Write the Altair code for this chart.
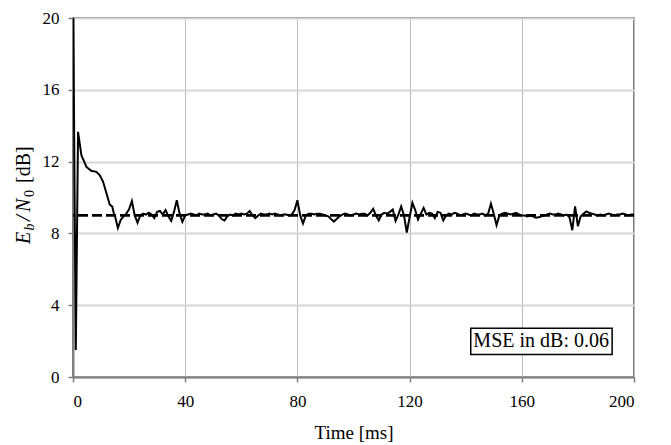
import altair as alt
import pandas as pd

# --- data ---
start_time = [0, 1, 1.8, 3, 4.8, 6.5, 8.3, 9.5, 10.7, 11.9, 13.1, 14.0, 14.5]
start_vals = [22.0, 1.5, 13.66, 12.35, 11.7, 11.49, 11.43, 11.25, 10.89, 10.25, 9.6, 9.5, 9.15]

steady_time = list(range(15, 201))
steady_vals = [
    8.95, 8.3, 8.75, 8.95, 9.1, 9.35, 9.8, 9.0, 8.6, 9.0,          # 15-24
    9.1, 9.05, 9.15, 9.05, 8.85, 9.2, 9.25, 9.05, 9.3, 8.95,       # 25-34
    8.7, 9.2, 9.85, 9.1, 8.65, 9.0, 9.05, 9.1, 9.05, 9.0,          # 35-44
    9.1, 9.05, 9.05, 9.1, 9.0, 9.05, 9.1, 9.0, 8.8, 8.72,          # 45-54
    8.95, 9.05, 9.0, 9.1, 9.05, 9.1, 9.05, 9.1, 9.25, 9.0,         # 55-64
    8.85, 9.0, 9.1, 9.05, 9.05, 9.1, 9.05, 9.1, 9.05, 9.0,         # 65-74
    9.05, 9.05, 9.0, 9.05, 9.3, 9.85, 9.0, 8.55, 9.0, 9.1,         # 75-84
    9.1, 9.05, 9.1, 9.1, 9.05, 9.0, 8.95, 8.8, 8.66, 8.8,          # 85-94
    8.95, 9.05, 9.1, 9.05, 9.0, 9.05, 9.1, 9.05, 9.1, 9.1,         # 95-104
    9.0, 9.15, 9.37, 9.0, 8.73, 9.05, 9.15, 9.1, 9.2, 9.33,        # 105-114
    8.7, 9.05, 9.5, 9.0, 8.05, 8.9, 9.7, 9.3, 8.78, 9.1,           # 115-124
    9.42, 9.05, 9.15, 9.1, 8.85, 9.2, 9.15, 8.72, 9.0, 9.1,        # 125-134
    9.05, 9.15, 9.1, 9.0, 9.05, 9.1, 9.05, 9.0, 9.1, 9.05,         # 135-144
    9.05, 9.1, 9.0, 9.1, 9.66, 9.1, 8.46, 9.0, 9.1, 9.15,          # 145-154
    9.1, 9.05, 9.1, 9.15, 9.05, 9.0, 9.0, 8.95, 9.0, 8.95,         # 155-164
    8.88, 8.9, 8.95, 9.0, 9.05, 9.1, 9.05, 9.05, 9.1, 9.05,        # 165-174
    9.0, 9.05, 8.9, 8.18, 9.5, 8.4, 8.95, 9.1, 9.22, 9.15,         # 175-184
    9.1, 9.05, 9.0, 9.05, 9.0, 9.05, 9.1, 9.05, 9.0, 9.05,         # 185-194
    9.05, 9.1, 9.05, 9.0, 9.05, 9.05,                               # 195-200
]

target_level = [9.0]
x_ticks = [0, 40, 80, 120, 160, 200]
y_ticks = [0, 4, 8, 12, 16, 20]
mse_text = "MSE in dB: 0.06"

df = pd.DataFrame({"t": start_time + steady_time, "v": start_vals + steady_vals})
ref_df = pd.DataFrame({"y": target_level})

FONT = "Liberation Serif"

x_enc = alt.X(
    "t:Q",
    scale=alt.Scale(domain=[0, 200], nice=False),
    axis=alt.Axis(
        values=x_ticks, title="Time [ms]", titleFontSize=19, titleFontWeight="normal",
        titleY=61, titleBaseline="alphabetic", labelFontSize=17, labelPadding=11,
        gridColor="#bdbdbd", gridWidth=1,
    ),
)
y_scale = alt.Scale(domain=[0, 20], nice=False)

line = alt.Chart(df).mark_line(color="black", strokeWidth=2, clip=True).encode(
    x=x_enc,
    y=alt.Y(
        "v:Q",
        scale=y_scale,
        axis=alt.Axis(
            values=y_ticks, title=None, labelFontSize=17, labelPadding=9,
            gridColor="#d6d6d6", gridWidth=2,
        ),
    ),
)

ref = alt.Chart(ref_df).mark_rule(color="black", strokeWidth=2.8, strokeDash=[10, 4]).encode(
    y=alt.Y("y:Q", scale=y_scale)
)

box_df = pd.DataFrame({"x1": [141.8], "x2": [192.2], "y1": [1.26], "y2": [2.72],
                       "tx": [166.9], "ty": [1.99], "label": [mse_text]})
box = alt.Chart(box_df).mark_rect(fill="white", stroke="black", strokeWidth=1.5).encode(
    x="x1:Q", x2="x2:Q", y="y1:Q", y2="y2:Q"
)
box_text = alt.Chart(box_df).mark_text(font=FONT, fontSize=20, align="center", baseline="middle").encode(
    x="tx:Q", y="ty:Q", text="label:N"
)

# y-axis title composed of pieces: E_b / N_0 [dB]
title_df = pd.DataFrame({
    "txt": ["E", "b", "/", "N", "0", "[dB]"],
    "px": [-43, -39.5, -43, -43, -39.5, -43],
    "py": [226, 212.5, 203, 194, 179, 165],
    "size": [20, 14, 21, 20, 14, 20],
    "style": ["italic", "italic", "italic", "italic", "normal", "normal"],
})
title_layers = []
for i in range(len(title_df)):
    row = title_df.iloc[[i]]
    title_layers.append(
        alt.Chart(row).mark_text(
            font=FONT, fontSize=float(row["size"].iloc[0]), fontStyle=row["style"].iloc[0],
            angle=270, align="left", baseline="alphabetic",
        ).encode(x=alt.value(float(row["px"].iloc[0])), y=alt.value(float(row["py"].iloc[0])), text="txt:N")
    )

chart = alt.layer(line, ref, box, box_text, *title_layers).properties(
    width=561, height=359,
    autosize=alt.AutoSizeParams(type="none"),
    padding={"left": 65, "top": 10, "right": 20, "bottom": 66},
).configure(
    font=FONT,
).configure_axis(
    domainColor="#7f7f7f", domainWidth=2, tickColor="#7f7f7f", tickSize=5, tickWidth=1.5,
    labelColor="black", titleColor="black", labelFont=FONT, titleFont=FONT,
).configure_view(
    stroke="#7f7f7f", strokeWidth=2,
)

chart.save("out.html", embed_options={"renderer": "svg", "actions": False})
